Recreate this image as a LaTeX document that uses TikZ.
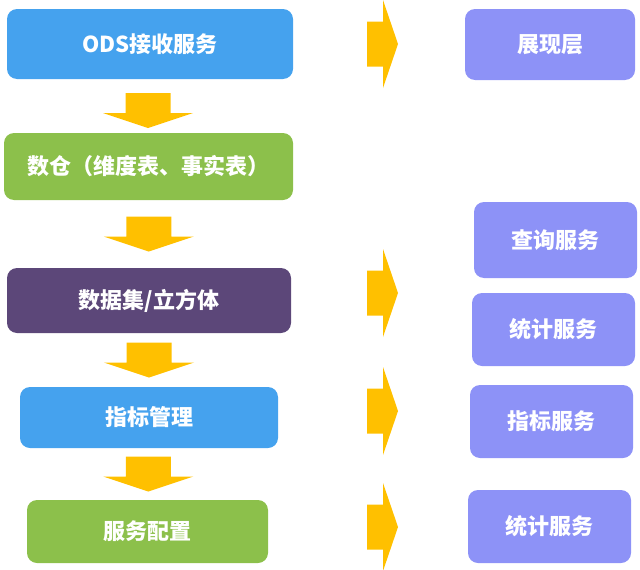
\documentclass[tikz,border=0pt]{standalone}
\usepackage{fontspec}
\setmainfont{Noto Sans CJK SC}
\usepackage{tikz}
\usetikzlibrary{positioning, calc}

\definecolor{odsblue}{HTML}{45A2EE}
\definecolor{dwgreen}{HTML}{8CC04B}
\definecolor{cubepurple}{HTML}{5C4779}
\definecolor{svclav}{HTML}{8D92F7}
\definecolor{flowyellow}{HTML}{FFC000}

\begin{document}
\begin{tikzpicture}[x=1pt, y=-1pt,
    box/.style={rectangle, rounded corners=10pt, text=white, align=center, font=\fontsize{22}{26}\selectfont\bfseries},
    svcbox/.style={box, fill=svclav, minimum width=163pt, minimum height=73pt},
    darrow/.pic={\fill[flowyellow] (-22.5,-17.5) -- (22.5,-17.5) -- (22.5,2.5) -- (45,2.5) -- (0,17.5) -- (-45,2.5) -- (-22.5,2.5) -- cycle;},
    rarrow/.pic={\fill[flowyellow] (-16,-22.5) -- (0,-22.5) -- (0,-44) -- (15,0) -- (0,44) -- (0,22.5) -- (-16,22.5) -- cycle;}]
    \useasboundingbox (0,0) rectangle (640,570);

    % left column
    \node [box, fill=odsblue, minimum width=286pt, minimum height=70pt] (ods) at (150,44) {ODS接收服务};
    \node [box, fill=dwgreen, minimum width=289pt, minimum height=67pt] (dw) at (148.5,166.5) {数仓（维度表、事实表）};
    \node [box, fill=cubepurple, minimum width=284pt, minimum height=65pt] (cube) at (149,300.5) {数据集/立方体};
    \node [box, fill=odsblue, minimum width=258pt, minimum height=61pt] (metric) at (149,417.5) {指标管理};
    \node [box, fill=dwgreen, minimum width=241pt, minimum height=63pt] (config) at (147.5,531.5) {服务配置};

    % right column
    \node [svcbox, minimum width=170pt, minimum height=71pt] (show) at (550,44.5) {展现层};
    \node [svcbox, minimum height=76pt] (query) at (555.5,240) {查询服务};
    \node [svcbox] (stat) at (553.5,329.5) {统计服务};
    \node [svcbox] (metricsvc) at (551.5,421.5) {指标服务};
    \node [svcbox] (statb) at (549.5,526.5) {统计服务};

    % flow arrows
    \pic at (148,110.5) {darrow};
    \pic at ($(dw.south)!.5!(cube.north)$) {darrow};
    \pic at ($(cube.south)!.5!(metric.north)$) {darrow};
    \pic at ($(metric.south)!.5!(config.north)$) {darrow};

    \pic at (383,44) {rarrow};
    \pic at (383,293) {rarrow};
    \pic at (383,411) {rarrow};
    \pic at (383,527) {rarrow};
\end{tikzpicture}
\end{document}
